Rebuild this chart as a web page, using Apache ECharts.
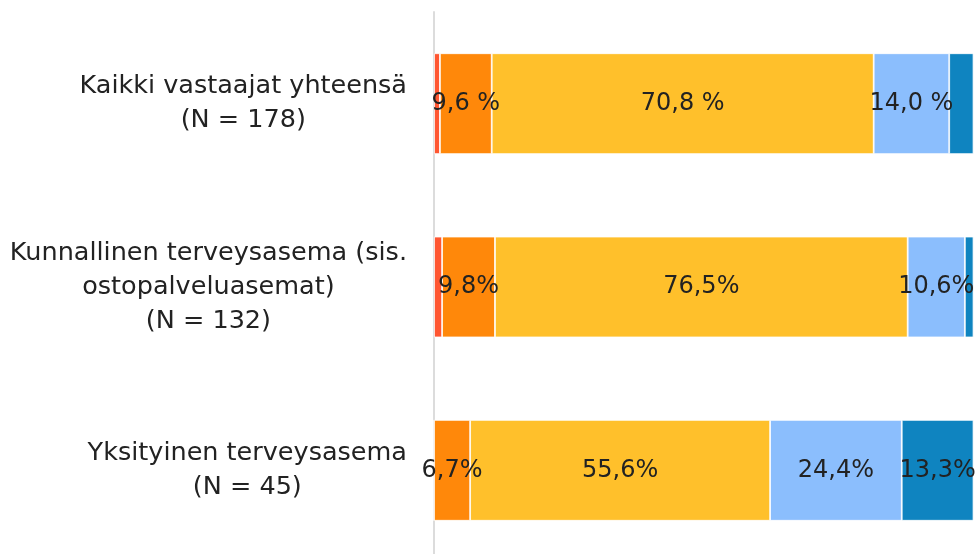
<!DOCTYPE html>
<html>
<head>
<meta charset="utf-8">
<script src="https://cdn.jsdelivr.net/npm/echarts@6/dist/echarts.min.js"></script>
<style>
html,body{margin:0;padding:0;background:#fff;}
#chart{width:978px;height:554px;}
</style>
</head>
<body>
<div id="chart"></div>
<script>
const categories = [
  'Kaikki vastaajat yhteensä\n(N = 178)',
  'Kunnallinen terveysasema (sis.\nostopalveluasemat)\n(N = 132)',
  'Yksityinen terveysasema\n(N = 45)'
];
const seriesNames = ['s1', 's2', 's3', 's4', 's5'];
const redValues = [1.1, 1.5, 0];
const orangeValues = [9.6, 9.8, 6.7];
const yellowValues = [70.8, 76.5, 55.6];
const lightBlueValues = [14.0, 10.6, 24.4];
const darkBlueValues = [4.5, 1.6, 13.3];

const redLabels = ['', '', ''];
const orangeLabels = ['9,6 %', '9,8%', '6,7%'];
const yellowLabels = ['70,8 %', '76,5%', '55,6%'];
const lightBlueLabels = ['14,0 %', '10,6%', '24,4%'];
const darkBlueLabels = ['', '', '13,3%'];

const colors = ['#FF5631', '#FF880A', '#FFC02B', '#8BBEFD', '#0F84C0'];
const FONT = 'DejaVu Sans';

const valueSets = [redValues, orangeValues, yellowValues, lightBlueValues, darkBlueValues];
const labelSets = [redLabels, orangeLabels, yellowLabels, lightBlueLabels, darkBlueLabels];

const series = valueSets.map((vals, i) => ({
  name: seriesNames[i],
  type: 'bar',
  stack: 'total',
  barWidth: '55%',
  itemStyle: { color: colors[i], borderColor: '#ffffff', borderWidth: 0.8 },
  label: {
    show: true,
    position: 'inside',
    color: '#222222',
    fontFamily: FONT,
    fontSize: 24,
    formatter: p => labelSets[i][p.dataIndex]
  },
  labelLayout: { hideOverlap: false },
  emphasis: { disabled: true },
  data: vals
}));

const chart = echarts.init(document.getElementById('chart'), null, { renderer: 'canvas' });
chart.setOption({
  animation: false,
  grid: { left: 434, width: 539.5, top: 12, height: 550, containLabel: false, outerBoundsMode: 'none' },
  xAxis: {
    type: 'value', min: 0, max: 100, show: false,
    splitLine: { show: false }
  },
  yAxis: {
    type: 'category',
    inverse: true,
    data: categories,
    axisTick: { show: false },
    axisLine: { show: true, lineStyle: { color: '#dcdcdc', width: 2 } },
    axisLabel: {
      margin: 27,
      align: 'right',
      formatter: v => v.split('\n').map(s => '{c|' + s + '}').join('\n'),
      rich: {
        c: { align: 'center', fontFamily: FONT, fontSize: 25.5, lineHeight: 34, color: '#222222' }
      }
    }
  },
  series: series
});
</script>
</body>
</html>
